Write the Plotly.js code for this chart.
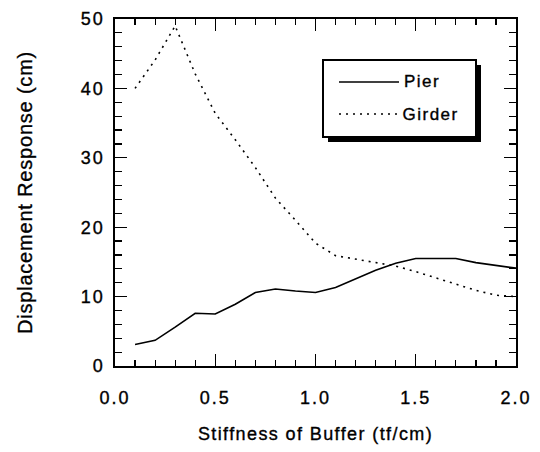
<!DOCTYPE html>
<html>
<head>
<meta charset="utf-8">
<script src="https://cdn.plot.ly/plotly-3.0.1.min.js"></script>
<style>
body{margin:0;padding:0;background:#fff;}
#chart{width:540px;height:452px;}
.js-plotly-plot text{letter-spacing:1.5px; stroke:#000; stroke-width:0.35px;}
.js-plotly-plot .xtick text{letter-spacing:2px;}
.js-plotly-plot .ytick text{letter-spacing:2px;}
.js-plotly-plot .ytitle{letter-spacing:0.8px;}
.js-plotly-plot .xtitle{letter-spacing:1.4px;}
</style>
</head>
<body>
<div id="chart"></div>
<script>
const stiffness = [0.1,0.2,0.3,0.4,0.5,0.6,0.7,0.8,0.9,1.0,1.1,1.2,1.3,1.4,1.5,1.6,1.7,1.8,1.9,2.0];
const pier   = [3.1,3.7,5.6,7.6,7.5,8.9,10.6,11.1,10.8,10.6,11.3,12.6,13.8,14.8,15.5,15.5,15.5,14.9,14.5,14.1];
const girder = [40.0,44.1,49.0,42.1,36.4,32.6,28.6,24.2,21.0,17.7,15.9,15.4,15.0,14.4,13.6,12.7,11.8,10.9,10.2,10.0];
const seriesNames = ['Pier','Girder'];
const xTitle = 'Stiffness of Buffer (tf/cm)';
const yTitle = 'Displacement Response (cm)';

const FONT = 'Liberation Sans, Arial, sans-serif';

// plot area in px: x 115..516, y 19..366
const L=115, R=516, T=19, B=366;
const px = v => (v - L) / (R - L);
const py = v => (B - v) / (B - T);

const lineStyles = [
  {color:'#000', width:1.6},
  {color:'#000', width:1.6, dash:'2px,5px'}
];

const traces = [
  {x: stiffness, y: pier, name: seriesNames[0], mode:'lines', line:lineStyles[0]},
  {x: stiffness, y: girder, name: seriesNames[1], mode:'lines', line:lineStyles[1]},
  {x: [], y: [], xaxis:'x2', yaxis:'y2', showlegend:false, mode:'lines', hoverinfo:'skip'}
];

const tickStyle = {ticks:'inside', tickwidth:1.2, tickcolor:'#000'};

// legend box drawn with shapes, entries as line shapes + text annotations
const legendRows = [82, 114];
const shapes = [
  {type:'rect', xref:'paper', yref:'paper', x0:px(328), x1:px(481), y0:py(142), y1:py(65),
   fillcolor:'#000', line:{width:0}, layer:'above'},
  {type:'rect', xref:'paper', yref:'paper', x0:px(323), x1:px(476), y0:py(137), y1:py(60),
   fillcolor:'#fff', line:{color:'#000', width:2}, layer:'above'}
];
const annotations = [];
seriesNames.forEach((nm, i) => {
  shapes.push({type:'line', xref:'paper', yref:'paper', x0:px(339), x1:px(399),
               y0:py(legendRows[i]), y1:py(legendRows[i]), line:lineStyles[i], layer:'above'});
  annotations.push({xref:'paper', yref:'paper', x:px(405), y:py(legendRows[i]),
               xanchor:'left', yanchor:'middle', text:nm, showarrow:false,
               font:{family:FONT, size:17, color:'#000'}});
});

const layout = {
  width:540, height:452,
  margin:{l:L, r:540-R, t:T, b:452-B},
  paper_bgcolor:'#fff', plot_bgcolor:'#fff',
  font:{family:FONT, size:17, color:'#000'},
  showlegend:false,
  xaxis:Object.assign({range:[0,2], tick0:0, dtick:0.5, tickformat:'.1f', ticklen:12,
         minor:{dtick:0.1, ticks:'inside', ticklen:6, tickwidth:1.2, tickcolor:'#000'},
         showline:true, linewidth:1.6, linecolor:'#000', mirror:true,
         showgrid:false, zeroline:false, ticklabelstandoff:15,
         tickfont:{family:FONT, size:18},
         title:{text:xTitle, standoff:20, font:{family:FONT, size:18}}}, tickStyle),
  yaxis:Object.assign({range:[0,50], tick0:0, dtick:10, ticklen:12,
         minor:{dtick:2, ticks:'inside', ticklen:7, tickwidth:1.2, tickcolor:'#000'},
         showline:true, linewidth:1.6, linecolor:'#000', mirror:true,
         showgrid:false, zeroline:false, ticklabelstandoff:5,
         tickfont:{family:FONT, size:18},
         title:{text:yTitle, standoff:47, font:{family:FONT, size:20}}}, tickStyle),
  xaxis2:Object.assign({overlaying:'x', side:'top', matches:'x', range:[0,2], tick0:0, dtick:0.5, ticklen:12,
         minor:{dtick:0.1, ticks:'inside', ticklen:6, tickwidth:1.2, tickcolor:'#000'},
         showticklabels:false, showline:false, showgrid:false, zeroline:false}, tickStyle),
  yaxis2:Object.assign({overlaying:'y', side:'right', range:[0,50], tick0:0, dtick:10, ticklen:12,
         minor:{dtick:2, ticks:'inside', ticklen:7, tickwidth:1.2, tickcolor:'#000'},
         showticklabels:false, showline:false, showgrid:false, zeroline:false}, tickStyle),
  shapes: shapes,
  annotations: annotations
};

Plotly.newPlot('chart', traces, layout, {staticPlot:true, displayModeBar:false});
</script>
</body>
</html>
